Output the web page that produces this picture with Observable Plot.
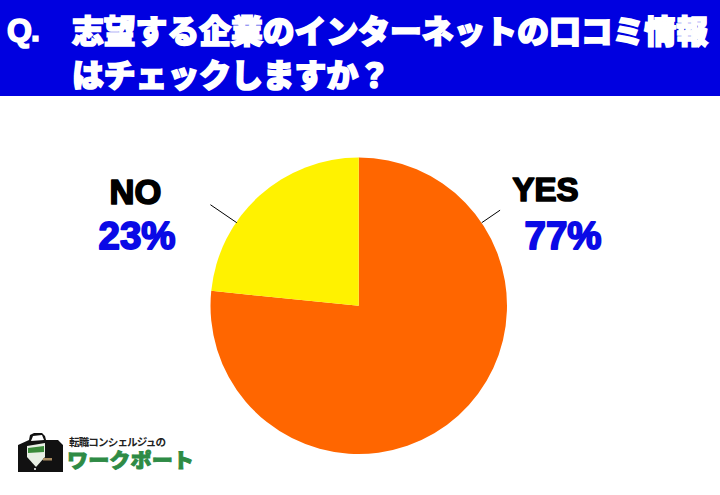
<!DOCTYPE html>
<html><head><meta charset="utf-8">
<script src="https://cdn.jsdelivr.net/npm/d3@7"></script>
<script src="https://cdn.jsdelivr.net/npm/@observablehq/plot@0.6"></script>
<style>
html,body{margin:0;padding:0;background:#fff;}
#page{position:relative;width:720px;height:495px;overflow:hidden;}
#head{position:absolute;left:0;top:0;width:720px;height:96px;background:#0000e0;color:#fff;font-family:"Noto Sans CJK JP";font-weight:900;font-size:31.8px;-webkit-text-stroke:1.7px #fff;}
#head span{position:absolute;white-space:nowrap;line-height:40px;}
#chart{position:absolute;left:0;top:96px;}
#logo{position:absolute;left:0;top:425px;}
</style></head><body>
<div id="page">
<div id="head"><span id="q" style="left:7px;top:10px;font-family:'Liberation Sans';font-weight:700;font-size:32px;letter-spacing:-1px;">Q.</span>
<span id="t1" style="left:72px;top:9px;"></span><span id="t2" style="left:72px;top:53px;"></span></div>
<div id="chart"></div>
<svg id="logo" width="210" height="60" viewBox="0 0 210 60">
<path d="M18 20 L29 15 L30 10 L34 8 L42 8 L45 11 L46 15 L58 15 L63 20 L63 47 L18 47 Z" fill="#111"/>
<path d="M33 11 L42 10 L44 15 L31 16 Z" fill="#fff"/>
<path d="M27 21 L45 18 L45 32 L36 42 L27 32 Z" fill="#e8efe4"/>
<path d="M28 23 L44 21 L44 27 L28 28 Z" fill="#3a8a3a"/>
<rect x="43" y="33" width="9" height="2.5" fill="#a98b60"/>
<circle cx="35" cy="44" r="1" fill="#fff"/>
<text x="69" y="21" font-family="Noto Sans CJK JP" font-weight="700" font-size="10.6" fill="#222" textLength="97">転職コンシェルジュの</text>
<text x="67" y="43" font-family="Noto Sans CJK JP" font-weight="900" font-size="20.5" fill="#2e8b45" stroke="#2e8b45" stroke-width="0.9" textLength="127" lengthAdjust="spacingAndGlyphs">ワークポート</text>
</svg>
</div>
<script>
const titleLines = ["志望する企業のインターネットの口コミ情報", "はチェックしますか？"];
const categories = ["YES", "NO"];
const shares = [76.6, 23.4];
const percents = ["77%", "23%"];
const colors = ["#ff6600", "#fff200"];
const leaderAngles = [55.7, -55.7];
const leaderReach = [1.15, 1.215];

document.getElementById("t1").textContent = titleLines[0];
document.getElementById("t2").textContent = titleLines[1];

const rows = categories.map((c, i) => ({category: c, share: shares[i], percent: percents[i], color: colors[i], angle: leaderAngles[i], reach: leaderReach[i]}));
const rad = d => d * Math.PI / 180;

function pieMark(index, {x, y}) {
  const cx = x(0), cy = y(0), r = x(1) - x(0);
  const g = d3.create("svg:g").attr("transform", `translate(${cx},${cy})`);
  const arcs = d3.pie().sort(null).value(d => d.share)(rows);
  const arc = d3.arc().innerRadius(0).outerRadius(r);
  g.selectAll("path").data(arcs).join("path").attr("d", arc).attr("fill", d => d.data.color);
  return g.node();
}

const label = (text, fill, size, dx, dy, strokeWidth) => Plot.text([text], {
  frameAnchor: "top-left", textAnchor: "start", lineAnchor: "bottom", dx, dy, fill,
  fontSize: size, fontWeight: 700, fontFamily: "Liberation Sans", stroke: fill, strokeWidth
});

const chart = Plot.plot({
  width: 720, height: 399, margin: 0,
  x: {domain: [-1, 1], range: [210.5, 507], axis: null},
  y: {domain: [-1, 1], range: [358, 61.5], axis: null},
  marks: [
    pieMark,
    Plot.link(rows, {
      x1: d => Math.sin(rad(d.angle)), y1: d => Math.cos(rad(d.angle)),
      x2: d => d.reach * Math.sin(rad(d.angle)), y2: d => d.reach * Math.cos(rad(d.angle)),
      stroke: "#000", strokeWidth: 1
    }),
    label(categories[0], "#000", 33, 512, 104, 1.7),
    label(categories[1], "#000", 34.5, 109, 107, 1.7),
    label(percents[0], "#0a0ae6", 38.5, 524, 152, 1.8),
    label(percents[1], "#0a0ae6", 38.5, 98, 152, 1.8)
  ],
  style: {background: "transparent"}
});
document.getElementById("chart").append(chart);
</script>
</body></html>
